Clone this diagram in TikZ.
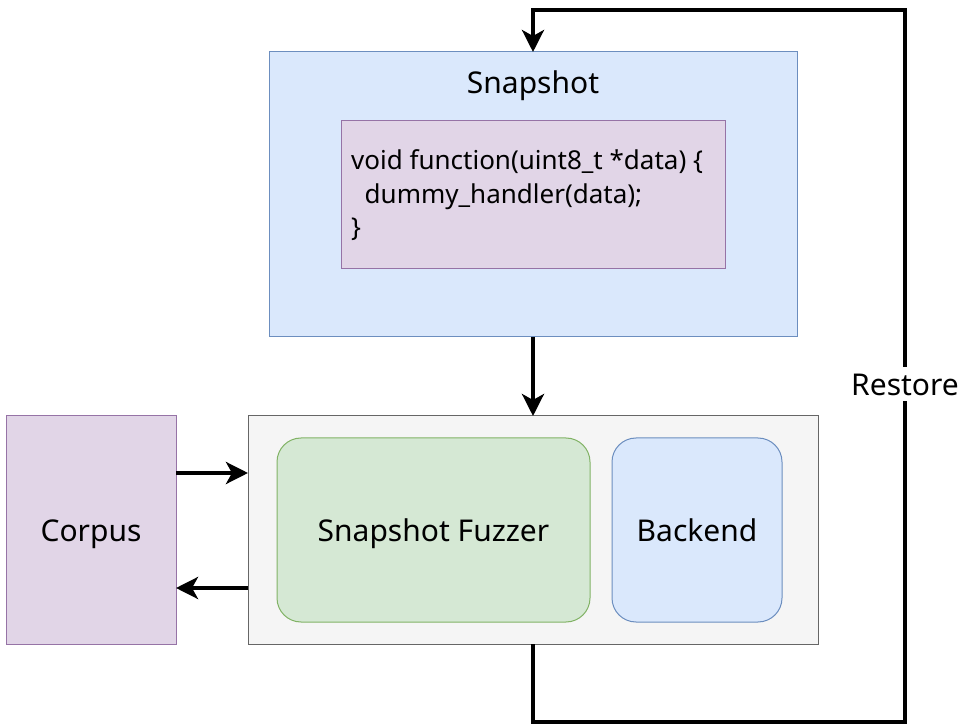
\documentclass[tikz,border=0pt]{standalone}
\usepackage{fontspec}
\setmainfont{Noto Sans}
\usetikzlibrary{arrows.meta}
\definecolor{bluefill}{HTML}{DAE8FC}
\definecolor{bluedraw}{HTML}{6C8EBF}
\definecolor{purpfill}{HTML}{E1D5E7}
\definecolor{purpdraw}{HTML}{9673A6}
\definecolor{greenfill}{HTML}{D5E8D4}
\definecolor{greendraw}{HTML}{82B366}
\definecolor{greyfill}{HTML}{F5F5F5}
\definecolor{greydraw}{HTML}{666666}
\tikzset{
  box/.style={draw, line width=1pt, inner sep=0pt, outer sep=0pt},
  conn/.style={line width=4pt, -{Stealth[length=22pt,width=22pt,inset=6pt]}},
  lbl/.style={font=\fontsize{30}{36}\selectfont, text height=27pt, text depth=3.6pt},
  codeline/.style={anchor=base west, inner sep=0pt, font=\fontsize{26}{30}\selectfont}
}
\begin{document}
\begin{tikzpicture}[x=1pt,y=-1pt]
\useasboundingbox (0,0) rectangle (970,727);
% Snapshot
\node[box, fill=bluefill, draw=bluedraw, minimum width=528pt, minimum height=285pt, anchor=north west] (snap) at (269,52) {};
\node[lbl, inner sep=0pt] (snaptitle) at (533,82) {Snapshot};
\node[box, fill=purpfill, draw=purpdraw, minimum width=384pt, minimum height=148pt, anchor=north west] (code) at (341,121) {};
\node[codeline] (code1) at (351,170) {void function(uint8\_t *data) \{};
\node[codeline] (code2) at (351,203.5) {\ \ dummy\_handler(data);};
\node[codeline] (code3) at (351,237) {\}};
% Container
\node[box, fill=greyfill, draw=greydraw, minimum width=570pt, minimum height=228pt, anchor=north west] (cont) at (248,416) {};
\node[box, rounded corners=24pt, fill=greenfill, draw=greendraw, minimum width=313pt, minimum height=184pt, anchor=north west, lbl] (fuzz) at (277,438) {Snapshot Fuzzer};
\node[box, rounded corners=24pt, fill=bluefill, draw=bluedraw, minimum width=170pt, minimum height=184pt, anchor=north west, lbl] (back) at (612,438) {Backend};
% Corpus
\node[box, fill=purpfill, draw=purpdraw, minimum width=170pt, minimum height=228pt, anchor=north west, lbl] (corpus) at (6,416) {Corpus};
% arrows
\draw[conn] (snap.south) -- (cont.north);
\draw[conn] (corpus.east |- 0,473) -- (cont.west |- 0,473);
\draw[conn] (cont.west |- 0,588) -- (corpus.east |- 0,588);
\coordinate (c1) at (533,722);
\coordinate (c2) at (905,722);
\coordinate (c3) at (905,10);
\coordinate (c4) at (533,10);
\draw[conn, line join=miter] (cont.south) -- (c1) -- (c2) -- (c3) -- (c4) -- (snap.north);
\node[lbl, fill=white, inner sep=2pt] (restore) at (905,384) {Restore};
\end{tikzpicture}
\end{document}
